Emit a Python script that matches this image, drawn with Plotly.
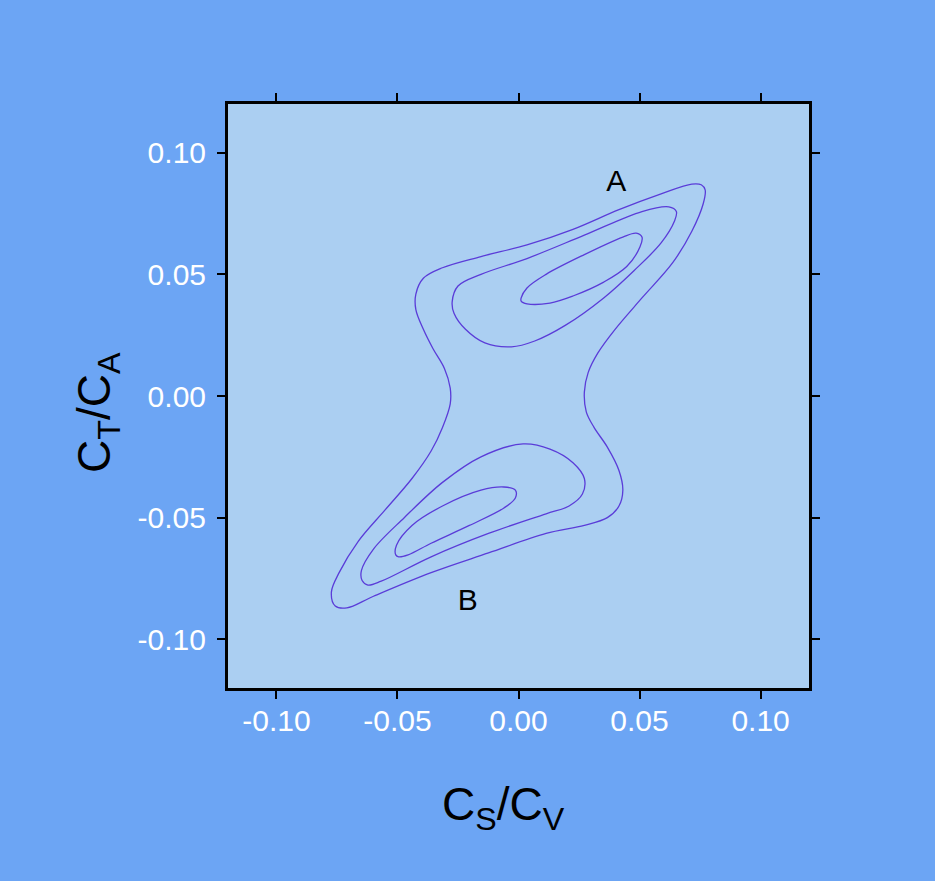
import plotly.graph_objects as go

# Outer hourglass contour (closed)
outer_x = [-0.0424, -0.0393, -0.0314, -0.0155, 0.0035, 0.0225, 0.0415, 0.0589, 0.0716, 0.0755, 0.0771,
           0.0763, 0.0716, 0.0637, 0.0510, 0.0399, 0.0328, 0.0288, 0.0272, 0.0280, 0.0312, 0.0367, 0.0415,
           0.0431, 0.0415, 0.0367, 0.0272, 0.0114, -0.0124, -0.0361, -0.0599, -0.0709, -0.0757, -0.0773,
           -0.0741, -0.0662, -0.0551, -0.0440, -0.0361, -0.0314, -0.0282, -0.0282, -0.0306, -0.0353,
           -0.0393, -0.0424, -0.0424]
outer_y = [0.0419, 0.0484, 0.0527, 0.0573, 0.0621, 0.0685, 0.0766, 0.0831, 0.0871, 0.0868, 0.0847,
           0.0790, 0.0677, 0.0548, 0.0403, 0.0274, 0.0177, 0.0097, 0.0016, -0.0065, -0.0129, -0.0210, -0.0306,
           -0.0387, -0.0452, -0.0500, -0.0532, -0.0565, -0.0645, -0.0726, -0.0823, -0.0871, -0.0863, -0.0806,
           -0.0726, -0.0597, -0.0468, -0.0339, -0.0226, -0.0129, -0.0032, 0.0032, 0.0113, 0.0194,
           0.0274, 0.0355, 0.0419]

# Middle loops
midA_x = [-0.0274, -0.0250, -0.0155, 0.0035, 0.0272, 0.0510, 0.0621, 0.0652, 0.0644, 0.0589, 0.0478,
          0.0352, 0.0193, 0.0067, -0.0029, -0.0139, -0.0219, -0.0266, -0.0274]
midA_y = [0.0387, 0.0452, 0.0500, 0.0565, 0.0661, 0.0758, 0.0777, 0.0758, 0.0718, 0.0629, 0.0516,
          0.0403, 0.0290, 0.0226, 0.0202, 0.0218, 0.0274, 0.0339, 0.0387]
midB_x = [-0.0646, -0.0649, -0.0599, -0.0472, -0.0314, -0.0155, 0.0019, 0.0130, 0.0225, 0.0272, 0.0264,
          0.0209, 0.0114, -0.0124, -0.0361, -0.0567, -0.0622, -0.0646]
midB_y = [-0.0758, -0.0718, -0.0629, -0.0500, -0.0355, -0.0250, -0.0197, -0.0218, -0.0274, -0.0339, -0.0403,
          -0.0452, -0.0484, -0.0565, -0.0661, -0.0761, -0.0777, -0.0758]

# Inner loops
innA_x = [0.0011, 0.0035, 0.0114, 0.0272, 0.0431, 0.0486, 0.0510, 0.0502, 0.0447, 0.0352, 0.0225,
          0.0130, 0.0035, 0.0011, 0.0011]
innA_y = [0.0403, 0.0444, 0.0500, 0.0581, 0.0653, 0.0669, 0.0653, 0.0613, 0.0532, 0.0468, 0.0411,
          0.0382, 0.0379, 0.0390, 0.0403]
innB_x = [-0.0507, -0.0504, -0.0440, -0.0314, -0.0155, -0.0060, -0.0013, -0.0013, -0.0060, -0.0203,
          -0.0361, -0.0456, -0.0495, -0.0507]
innB_y = [-0.0653, -0.0613, -0.0532, -0.0452, -0.0387, -0.0374, -0.0387, -0.0419, -0.0460, -0.0532,
          -0.0605, -0.0653, -0.0661, -0.0653]

tick_vals = [-0.10, -0.05, 0.00, 0.05, 0.10]
tick_text = ["-0.10", "-0.05", "0.00", "0.05", "0.10"]

label_text = ["A", "B"]
label_x = [0.0404, -0.0210]
label_y = [0.0874, -0.0850]

FONT = "Liberation Sans, Arial, Helvetica"
LINE = "#5a3cd8"
fig = go.Figure()
for xs, ys in [(outer_x, outer_y), (midA_x, midA_y), (midB_x, midB_y), (innA_x, innA_y), (innB_x, innB_y)]:
    fig.add_trace(go.Scatter(x=xs, y=ys, mode="lines",
                             line=dict(color=LINE, width=1.3, shape="spline", smoothing=1.0),
                             hoverinfo="skip", showlegend=False))

fig.add_trace(go.Scatter(x=label_x, y=label_y, mode="text", text=label_text,
                         textfont=dict(family=FONT, size=30, color="black"),
                         showlegend=False, hoverinfo="skip"))

axis_common = dict(range=[-0.12, 0.12], tickvals=tick_vals, ticktext=tick_text,
                   showgrid=False, zeroline=False, showline=True, linecolor="black", linewidth=3,
                   mirror="ticks", ticks="outside", ticklen=8, tickwidth=2, tickcolor="black",
                   tickfont=dict(family=FONT, size=30, color="white"))

fig.update_layout(
    width=935, height=881,
    margin=dict(l=228, r=126, t=104, b=193),
    paper_bgcolor="#6ca5f4",
    plot_bgcolor="#abcff2",
    showlegend=False,
    xaxis=dict(axis_common, ticklabelstandoff=-4),
    yaxis=dict(axis_common, ticklabelstandoff=5),
    annotations=[
        dict(text="C<sub>S</sub>/C<sub>V</sub>", xref="paper", yref="paper", x=0.475, y=-0.205,
             xanchor="center", yanchor="middle", showarrow=False,
             font=dict(family=FONT, size=46, color="black")),
        dict(text="C<sub>T</sub>/C<sub>A</sub>", xref="paper", yref="paper", x=-0.2255, y=0.4726,
             xanchor="center", yanchor="middle", textangle=-90, showarrow=False,
             font=dict(family=FONT, size=46, color="black")),
    ],
)

fig.write_html("out.html", config={"displayModeBar": False},
               post_script="document.body.style.margin='0';document.body.style.overflow='hidden';")
